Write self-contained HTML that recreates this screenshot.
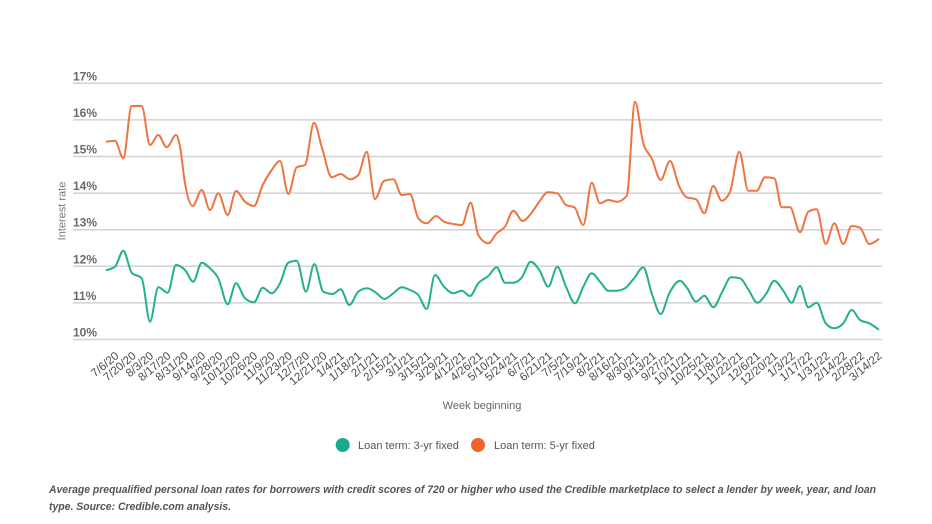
<!DOCTYPE html>
<html>
<head>
<meta charset="utf-8">
<style>
  html, body { margin: 0; padding: 0; background: #ffffff; }
  body { width: 932px; height: 524px; overflow: hidden; }
  svg { display: block; font-family: "Liberation Sans", Arial, sans-serif; }
</style>
</head>
<body>
<svg id="chart" width="932" height="524" viewBox="0 0 932 524" xmlns="http://www.w3.org/2000/svg">
  <rect width="932" height="524" fill="#ffffff"/>

  <!-- gridlines -->
  <g stroke="#d2d2d2" stroke-width="1.5">
    <line x1="73" y1="83.3" x2="882" y2="83.3"/>
    <line x1="73" y1="119.9" x2="882" y2="119.9"/>
    <line x1="73" y1="156.5" x2="882" y2="156.5"/>
    <line x1="73" y1="193.1" x2="882" y2="193.1"/>
    <line x1="73" y1="229.7" x2="882" y2="229.7"/>
    <line x1="73" y1="266.3" x2="882" y2="266.3"/>
    <line x1="73" y1="302.9" x2="882" y2="302.9"/>
    <line x1="73" y1="339.5" x2="882" y2="339.5"/>
  </g>

  <!-- y labels -->
  <g font-size="12" font-weight="bold" fill="#6a6a6a">
    <text x="73" y="80.3">17%</text>
    <text x="73" y="116.9">16%</text>
    <text x="73" y="153.5">15%</text>
    <text x="73" y="190.1">14%</text>
    <text x="73" y="226.7">13%</text>
    <text x="73" y="263.3">12%</text>
    <text x="73" y="299.9">11%</text>
    <text x="73" y="336.5">10%</text>
  </g>

  <text x="65.5" y="211" font-size="11" fill="#777777" text-anchor="middle" transform="rotate(-90 65.5 211)">Interest rate</text>

  <!-- series -->
  <polyline class="series" fill="none" stroke="#ee7442" stroke-width="2" stroke-linejoin="round" stroke-linecap="round"
    points="106.7,141.7 115,140.7 123.3,158.3 131.7,106 141.7,106 150,145 158.3,135 166.7,147.3 176,135 180,146.7 185,183.3 192.7,206 201.7,190 210,210 218.3,193.3 227.7,215 236,191 245,201.7 254,206 262.7,185 271.7,170 280,161 288.3,194 296.7,167.3 305,165 314,122.7 321.7,146.7 331.7,177.3 340.7,174 350,179.3 358.3,175 366.7,151.7 375,199 384,181 393.3,179.3 401.7,195 410,194 418.3,218.3 426.7,223.3 436,216 444,221.7 453.3,224 461.7,225 470.7,202.7 478.3,235 488.3,243.3 496.7,233.3 505,226.7 513.3,210.7 522.7,221 530.7,214 539.3,201.7 547.7,192.3 557.3,193.3 566,205 574.3,207.3 583.3,225 591.7,182.7 600,203.3 608.3,200 616.7,201.7 626.7,196 635,101.7 643.3,143.3 651.7,158.3 660.7,180 670,161 679.3,186.7 686.7,197.3 696,199.3 704.3,213.3 713.3,186 721.7,200.7 730,191.7 739.3,151.7 748.3,190.7 756.7,190.7 765,177.3 774.3,178.3 781.7,207.3 790,207.3 800,232.3 808.3,211.7 816.7,209.3 825.7,244 834.3,223.3 843.3,244 851.7,226 860,227.7 869.3,244 878.3,239.3"/>
  <polyline class="series" fill="none" stroke="#23b08e" stroke-width="2" stroke-linejoin="round" stroke-linecap="round"
    points="106.7,270 115,266.7 123.3,250.7 131.7,272.7 141.7,278.3 150,321.7 158.3,287.3 167.7,292.7 176,265 185,270 193.3,281.7 201.7,262.7 210,268.3 218.3,278.3 227.7,304.3 236,283.3 245,298.3 254,302.3 262.7,287.7 271.7,293.3 280,283.3 288.3,262.7 296.7,260.7 306,291.7 314.3,264 323.3,291.7 332.7,294 340.7,289.3 349.3,305 358.3,291.7 367.3,288.3 376,292.7 384.3,299 393.3,293.3 401.7,287.3 410,290 418.3,295 426.7,309 435,275 444,286.7 453.3,293.3 461.7,290.7 470,296 478.3,283.3 488.3,276 496.7,267.3 505,282.7 513.3,282.7 521.7,277.7 530.7,261.7 539.3,270 548.3,286.7 557.3,266.7 566,286.7 575,303.3 583.3,286.7 591.7,273.3 600,281.7 608.3,290.7 616.7,290.7 625,288.3 634,278.3 643.3,267.3 651.7,293.3 660.7,314 669.3,293.3 680,280.7 687.3,288.3 696,301.7 704.3,295.7 713.3,307.3 722.3,291.7 731,277.3 740,278.3 748.3,289.3 757.3,302.7 766,294 774.3,280.7 783.3,290.7 791.7,302.7 800,286 808.3,307.3 816.7,302.7 825.7,323.3 834.3,328.3 843.3,323.3 851.7,310 860,320 869.3,323.3 878.3,329.3"/>

  <!-- x labels -->
  <g font-size="11.5" fill="#4a4a4a" text-anchor="end">
    <text x="119.5" y="357" transform="rotate(-40 119.5 357)">7/6/20</text>
    <text x="136.8" y="357" transform="rotate(-40 136.8 357)">7/20/20</text>
    <text x="154.2" y="357" transform="rotate(-40 154.2 357)">8/3/20</text>
    <text x="171.5" y="357" transform="rotate(-40 171.5 357)">8/17/20</text>
    <text x="188.9" y="357" transform="rotate(-40 188.9 357)">8/31/20</text>
    <text x="206.2" y="357" transform="rotate(-40 206.2 357)">9/14/20</text>
    <text x="223.5" y="357" transform="rotate(-40 223.5 357)">9/28/20</text>
    <text x="240.9" y="357" transform="rotate(-40 240.9 357)">10/12/20</text>
    <text x="258.2" y="357" transform="rotate(-40 258.2 357)">10/26/20</text>
    <text x="275.6" y="357" transform="rotate(-40 275.6 357)">11/9/20</text>
    <text x="292.9" y="357" transform="rotate(-40 292.9 357)">11/23/20</text>
    <text x="310.2" y="357" transform="rotate(-40 310.2 357)">12/7/20</text>
    <text x="327.6" y="357" transform="rotate(-40 327.6 357)">12/21/20</text>
    <text x="344.9" y="357" transform="rotate(-40 344.9 357)">1/4/21</text>
    <text x="362.3" y="357" transform="rotate(-40 362.3 357)">1/18/21</text>
    <text x="379.6" y="357" transform="rotate(-40 379.6 357)">2/1/21</text>
    <text x="396.9" y="357" transform="rotate(-40 396.9 357)">2/15/21</text>
    <text x="414.3" y="357" transform="rotate(-40 414.3 357)">3/1/21</text>
    <text x="431.6" y="357" transform="rotate(-40 431.6 357)">3/15/21</text>
    <text x="449" y="357" transform="rotate(-40 449 357)">3/29/21</text>
    <text x="466.3" y="357" transform="rotate(-40 466.3 357)">4/12/21</text>
    <text x="483.6" y="357" transform="rotate(-40 483.6 357)">4/26/21</text>
    <text x="501" y="357" transform="rotate(-40 501 357)">5/10/21</text>
    <text x="518.3" y="357" transform="rotate(-40 518.3 357)">5/24/21</text>
    <text x="535.7" y="357" transform="rotate(-40 535.7 357)">6/7/21</text>
    <text x="553" y="357" transform="rotate(-40 553 357)">6/21/21</text>
    <text x="570.3" y="357" transform="rotate(-40 570.3 357)">7/5/21</text>
    <text x="587.7" y="357" transform="rotate(-40 587.7 357)">7/19/21</text>
    <text x="605" y="357" transform="rotate(-40 605 357)">8/2/21</text>
    <text x="622.4" y="357" transform="rotate(-40 622.4 357)">8/16/21</text>
    <text x="639.7" y="357" transform="rotate(-40 639.7 357)">8/30/21</text>
    <text x="657" y="357" transform="rotate(-40 657 357)">9/13/21</text>
    <text x="674.4" y="357" transform="rotate(-40 674.4 357)">9/27/21</text>
    <text x="691.7" y="357" transform="rotate(-40 691.7 357)">10/11/21</text>
    <text x="709.1" y="357" transform="rotate(-40 709.1 357)">10/25/21</text>
    <text x="726.4" y="357" transform="rotate(-40 726.4 357)">11/8/21</text>
    <text x="743.7" y="357" transform="rotate(-40 743.7 357)">11/22/21</text>
    <text x="761.1" y="357" transform="rotate(-40 761.1 357)">12/6/21</text>
    <text x="778.4" y="357" transform="rotate(-40 778.4 357)">12/20/21</text>
    <text x="795.8" y="357" transform="rotate(-40 795.8 357)">1/3/22</text>
    <text x="813.1" y="357" transform="rotate(-40 813.1 357)">1/17/22</text>
    <text x="830.4" y="357" transform="rotate(-40 830.4 357)">1/31/22</text>
    <text x="847.8" y="357" transform="rotate(-40 847.8 357)">2/14/22</text>
    <text x="865.1" y="357" transform="rotate(-40 865.1 357)">2/28/22</text>
    <text x="882.5" y="357" transform="rotate(-40 882.5 357)">3/14/22</text>
  </g>

  <text x="482" y="409" font-size="11" fill="#666666" text-anchor="middle">Week beginning</text>

  <!-- legend -->
  <circle cx="342.7" cy="445" r="7" fill="#1aa98c"/>
  <text x="358" y="449" font-size="11" fill="#555555">Loan term: 3-yr fixed</text>
  <circle cx="478" cy="445" r="7" fill="#f0642a"/>
  <text x="494" y="449" font-size="11" fill="#555555">Loan term: 5-yr fixed</text>

  <!-- caption -->
  <g font-size="11" font-style="italic" font-weight="bold" fill="#555555">
    <text x="49" y="493" textLength="827" lengthAdjust="spacingAndGlyphs">Average prequalified personal loan rates for borrowers with credit scores of 720 or higher who used the Credible marketplace to select a lender by week, year, and loan</text>
    <text x="49" y="510" textLength="182" lengthAdjust="spacingAndGlyphs">type. Source: Credible.com analysis.</text>
  </g>
</svg>
<script>
(function(){
  try {
    var NS = "http://www.w3.org/2000/svg";
    function sign(v){ return v < 0 ? -1 : 1; }
    var lines = document.querySelectorAll("polyline.series");
    for (var k = 0; k < lines.length; k++) {
      var pl = lines[k];
      var pts = pl.getAttribute("points").trim().split(/\s+/).map(function(s){
        var a = s.split(","); return [parseFloat(a[0]), parseFloat(a[1])];
      });
      var n = pts.length, i;
      var h = [], s = [], t = [];
      for (i = 0; i < n - 1; i++) {
        h[i] = pts[i+1][0] - pts[i][0];
        s[i] = (pts[i+1][1] - pts[i][1]) / h[i];
      }
      for (i = 1; i < n - 1; i++) {
        var h0 = h[i-1], h1 = h[i], s0 = s[i-1], s1 = s[i];
        var p = (s0 * h1 + s1 * h0) / (h0 + h1);
        t[i] = (sign(s0) + sign(s1)) * Math.min(Math.abs(s0), Math.abs(s1), 0.5 * Math.abs(p)) || 0;
      }
      t[0] = (3 * s[0] - t[1]) / 2;
      t[n-1] = (3 * s[n-2] - t[n-2]) / 2;
      var d = "M" + pts[0][0] + "," + pts[0][1];
      for (i = 0; i < n - 1; i++) {
        var dx = h[i] / 3;
        d += " C" + (pts[i][0] + dx).toFixed(2) + "," + (pts[i][1] + dx * t[i]).toFixed(2) + " " +
             (pts[i+1][0] - dx).toFixed(2) + "," + (pts[i+1][1] - dx * t[i+1]).toFixed(2) + " " +
             pts[i+1][0] + "," + pts[i+1][1];
      }
      var path = document.createElementNS(NS, "path");
      path.setAttribute("d", d);
      path.setAttribute("fill", "none");
      path.setAttribute("stroke", pl.getAttribute("stroke"));
      path.setAttribute("stroke-width", "2");
      path.setAttribute("stroke-linejoin", "round");
      path.setAttribute("stroke-linecap", "round");
      pl.parentNode.replaceChild(path, pl);
    }
  } catch (e) {}
})();
</script>
</body>
</html>
